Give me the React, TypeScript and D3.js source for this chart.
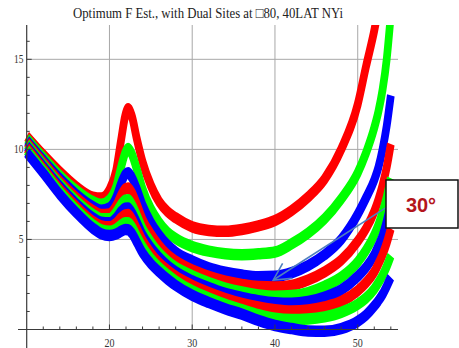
import React from 'react';
import * as d3 from 'd3';

const W = 459;
const H = 348;

// shared abscissae for every curve
const xValues = [10, 12, 14, 16, 18, 19, 20, 20.8, 21.4, 21.9, 22.25, 22.7, 23.3, 24, 25, 26, 27, 28, 30, 32, 34, 36, 38, 40, 42, 44, 46, 48, 50, 51, 52, 52.5, 53, 53.5, 54];

const red1 = [10.72, 9.7, 8.75, 7.92, 7.35, 7.3, 7.75, 8.8, 10.5, 11.85, 12.25, 11.85, 10.6, 9.3, 8.0, 7.1, 6.55, 6.2, 5.7, 5.5, 5.45, 5.55, 5.75, 6.05, 6.6, 7.35, 8.35, 10.0, 12.5, 14.6, 16.6, 17.8, null, null, null];
const green1 = [10.6, 9.55, 8.55, 7.72, 7.1, 6.95, 7.2, 7.9, 9.0, 9.8, 10.05, 9.75, 8.9, 7.8, 6.7, 5.95, 5.4, 5.05, 4.6, 4.35, 4.2, 4.15, 4.2, 4.3, 4.75, 5.35, 6.15, 7.25, 8.7, 9.8, 11.2, 12.1, 13.3, 15.0, 17.5];
const blue1 = [10.48, 9.4, 8.38, 7.5, 6.82, 6.62, 6.75, 7.3, 8.1, 8.6, 8.7, 8.45, 7.8, 6.9, 5.95, 5.25, 4.7, 4.3, 3.8, 3.42, 3.18, 3.02, 2.93, 2.95, 3.15, 3.55, 4.15, 5.0, 6.4, 7.3, 8.3, 9.0, 10.0, 11.3, 13.0];
const red2 = [10.38, 9.28, 8.22, 7.32, 6.6, 6.38, 6.42, 6.85, 7.45, 7.8, 7.86, 7.6, 6.95, 6.1, 5.3, 4.65, 4.15, 3.8, 3.3, 2.95, 2.68, 2.5, 2.38, 2.36, 2.45, 2.75, 3.2, 3.85, 4.9, 5.6, 6.55, 7.2, 8.0, 9.0, 10.3];
const green2 = [10.28, 9.16, 8.08, 7.14, 6.4, 6.15, 6.15, 6.5, 6.95, 7.18, 7.2, 6.95, 6.35, 5.6, 4.85, 4.25, 3.8, 3.45, 2.98, 2.6, 2.3, 2.08, 1.92, 1.84, 1.88, 2.05, 2.4, 2.9, 3.75, 4.4, 5.25, 5.8, 6.5, 7.35, 8.4];
const blue2 = [10.18, 9.05, 7.94, 6.98, 6.2, 5.95, 5.92, 6.18, 6.55, 6.73, 6.75, 6.5, 5.95, 5.25, 4.55, 4.0, 3.55, 3.2, 2.7, 2.32, 2.0, 1.78, 1.6, 1.48, 1.45, 1.55, 1.8, 2.2, 2.95, 3.45, 4.15, 4.65, 5.2, 6.0, 7.0];
const red3 = [10.08, 8.93, 7.8, 6.82, 6.0, 5.75, 5.7, 5.9, 6.2, 6.36, 6.38, 6.15, 5.6, 4.95, 4.25, 3.7, 3.3, 2.95, 2.45, 2.05, 1.72, 1.45, 1.25, 1.1, 1.03, 1.08, 1.25, 1.55, 2.15, 2.6, 3.2, 3.65, 4.15, 4.8, 5.6];
const green3 = [9.96, 8.82, 7.66, 6.66, 5.82, 5.53, 5.45, 5.58, 5.8, 5.92, 5.92, 5.72, 5.2, 4.6, 3.95, 3.45, 3.05, 2.7, 2.15, 1.75, 1.4, 1.1, 0.82, 0.62, 0.55, 0.58, 0.7, 0.95, 1.4, 1.75, 2.25, 2.6, 3.0, 3.5, 4.1];
const blue3 = [9.82, 8.68, 7.5, 6.48, 5.62, 5.32, 5.22, 5.3, 5.45, 5.55, 5.54, 5.35, 4.85, 4.25, 3.65, 3.2, 2.8, 2.45, 1.9, 1.5, 1.15, 0.85, 0.5, 0.22, 0.05, -0.08, -0.1, 0.05, 0.45, 0.8, 1.3, 1.6, 1.95, 2.4, 2.9];

// drawn in this order, so each lower curve sits over the one above it
const seriesList = [red1, green1, blue1, red2, green2, blue2, red3, green3, blue3];
const seriesColors = ['#ff0000', '#00ff00', '#0000ff', '#ff0000', '#00ff00', '#0000ff', '#ff0000', '#00ff00', '#0000ff'];

const xMajorTicks = [20, 30, 40, 50];
const xTickLabels = ['20', '30', '40', '50'];
const xMinorTicks = d3.range(12, 55, 2);
const yMajorTicks = [5, 10, 15];
const yTickLabels = ['5', '10', '15'];
const yMinorTicks = d3.range(1, 17, 1);

const titleText = 'Optimum F Est., with Dual Sites at \u25A180, 40LAT NYi';
const calloutText = '30\u00B0';
const calloutTarget = [39.8, 2.75];

// plot lines are drawn in a vertically stretched frame
const STRETCH = 1.5;

export default function App() {
  const x = d3.scaleLinear().domain([10, 55]).range([26.7, 399.1]);
  const y = d3.scaleLinear().domain([0, 17]).range([329.5, 23.3]);

  const line = d3
    .line<[number, number | null]>()
    .defined((d) => d[1] !== null)
    .x((d) => x(d[0]))
    .y((d) => y(d[1] as number) / STRETCH)
    .curve(d3.curveMonotoneX);

  const axisColor = '#3a3a3a';
  const gridColor = '#a8a8a8';
  const gridTop = 25;
  const gridRight = 398;

  // callout geometry
  const boxX = 386;
  const boxY = 180;
  const boxW = 72;
  const boxH = 48;
  const startX = boxX;
  const startY = 207.7;
  const tipX = x(calloutTarget[0]);
  const tipY = y(calloutTarget[1]);
  const ang = Math.atan2(startY - tipY, startX - tipX);
  const barbLen = 19;
  const barbAng = (28 * Math.PI) / 180;
  const barb1 = [tipX + barbLen * Math.cos(ang - barbAng), tipY + barbLen * Math.sin(ang - barbAng)];
  const barb2 = [tipX + barbLen * Math.cos(ang + barbAng), tipY + barbLen * Math.sin(ang + barbAng)];

  return (
    <svg
      width={W}
      height={H}
      viewBox={`0 0 ${W} ${H}`}
      style={{ position: 'fixed', left: 0, top: 0, background: '#fff' }}
    >
      <defs>
        <clipPath id="plotClip">
          <rect x={0} y={gridTop} width={W} height={H - gridTop} />
        </clipPath>
      </defs>
      <rect x={0} y={0} width={W} height={H} fill="#fff" />

      {/* grid */}
      {xMajorTicks.map((t) => (
        <line key={`gx${t}`} x1={x(t)} x2={x(t)} y1={gridTop} y2={y(0)} stroke={gridColor} strokeWidth={1} />
      ))}
      {yMajorTicks.map((t) => (
        <line key={`gy${t}`} x1={x(10)} x2={gridRight} y1={y(t)} y2={y(t)} stroke={gridColor} strokeWidth={1} />
      ))}

      {/* curves */}
      <g clipPath="url(#plotClip)">
        <g transform={`scale(1, ${STRETCH})`}>
          {seriesList.map((vals, i) => (
            <path
              key={`s${i}`}
              d={line(xValues.map((xv, j) => [xv, vals[j]]) as [number, number | null][]) || ''}
              fill="none"
              stroke={seriesColors[i]}
              strokeWidth={7.7}
              strokeLinejoin="round"
              strokeLinecap="butt"
            />
          ))}
        </g>
      </g>

      {/* axes */}
      <line x1={x(10)} x2={x(10)} y1={gridTop} y2={H} stroke={axisColor} strokeWidth={1.2} />
      <line x1={18} x2={gridRight} y1={y(0)} y2={y(0)} stroke={axisColor} strokeWidth={1.2} />
      {yMinorTicks.map((t) => (
        <line
          key={`ty${t}`}
          x1={x(10)}
          x2={x(10) + (t % 5 === 0 ? 5 : 3)}
          y1={y(t)}
          y2={y(t)}
          stroke={axisColor}
          strokeWidth={1}
        />
      ))}
      {xMinorTicks.map((t) => (
        <line
          key={`tx${t}`}
          x1={x(t)}
          x2={x(t)}
          y1={y(0)}
          y2={y(0) - (t % 10 === 0 ? 5 : 3)}
          stroke={axisColor}
          strokeWidth={1}
        />
      ))}
      {yMajorTicks.map((t, i) => (
        <text
          key={`ly${t}`}
          x={23.5}
          y={y(t) + 4}
          textAnchor="end"
          fontFamily="'Liberation Serif', 'Times New Roman', serif"
          fontSize={12.5}
          fill="#333"
          textLength={yTickLabels[i].length * 4.7}
          lengthAdjust="spacingAndGlyphs"
        >
          {yTickLabels[i]}
        </text>
      ))}
      {xMajorTicks.map((t, i) => (
        <text
          key={`lx${t}`}
          x={x(t)}
          y={346.5}
          textAnchor="middle"
          fontFamily="'Liberation Serif', 'Times New Roman', serif"
          fontSize={13.5}
          fill="#333"
          textLength={10}
          lengthAdjust="spacingAndGlyphs"
        >
          {xTickLabels[i]}
        </text>
      ))}

      {/* title */}
      <text
        x={208}
        y={18.3}
        textAnchor="middle"
        fontFamily="'Liberation Serif', 'Times New Roman', serif"
        fontSize={15}
        fill="#222"
        textLength={270}
        lengthAdjust="spacingAndGlyphs"
      >
        {titleText}
      </text>

      {/* callout */}
      <line x1={startX} y1={startY} x2={tipX} y2={tipY} stroke="#4f7fbf" strokeWidth={1.6} />
      <polyline
        points={`${barb1[0]},${barb1[1]} ${tipX},${tipY} ${barb2[0]},${barb2[1]}`}
        fill="none"
        stroke="#4f7fbf"
        strokeWidth={1.6}
      />
      <rect x={boxX} y={boxY} width={boxW} height={boxH} fill="#fff" stroke="#111" strokeWidth={1.5} />
      <text
        x={421}
        y={211.7}
        textAnchor="middle"
        fontFamily="'Liberation Sans', Arial, sans-serif"
        fontWeight="bold"
        fontSize={20}
        fill="#b4151b"
      >
        {calloutText}
      </text>
    </svg>
  );
}
